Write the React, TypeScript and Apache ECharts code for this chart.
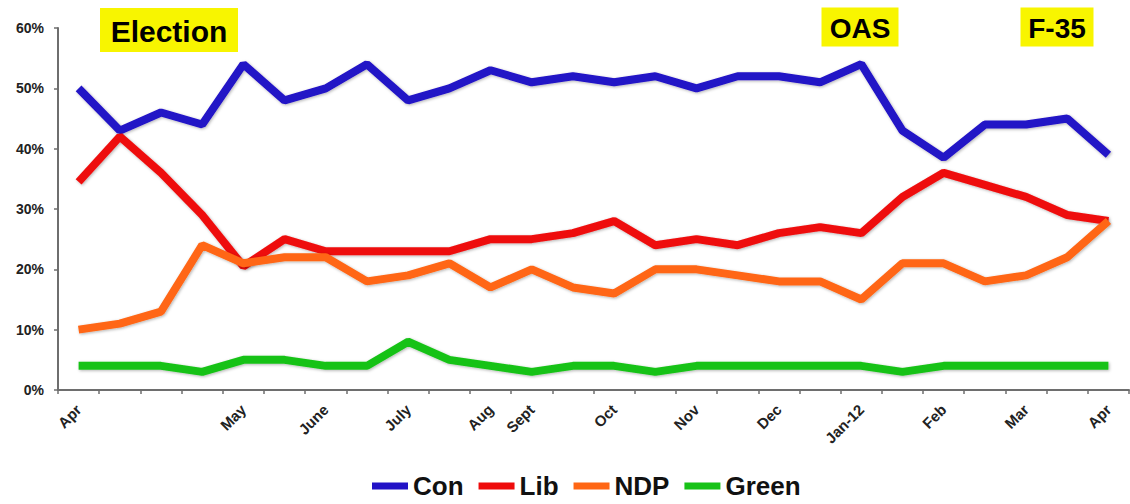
import React, { useEffect, useRef } from "react";
import * as echarts from "echarts";

const categories = ["Apr", "", "", "", "May", "", "June", "", "July", "", "Aug", "Sept", "", "Oct", "", "Nov", "", "Dec", "", "Jan-12", "", "Feb", "", "Mar", "", "Apr"];
const conValues = [50, 43, 46, 44, 54, 48, 50, 54, 48, 50, 53, 51, 52, 51, 52, 50, 52, 52, 51, 54, 43, 38.5, 44, 44, 45, 39];
const libValues = [34.5, 42, 36, 29, 20.5, 25, 23, 23, 23, 23, 25, 25, 26, 28, 24, 25, 24, 26, 27, 26, 32, 36, 34, 32, 29, 28];
const ndpValues = [10, 11, 13, 24, 21, 22, 22, 18, 19, 21, 17, 20, 17, 16, 20, 20, 19, 18, 18, 15, 21, 21, 18, 19, 22, 28];
const greenValues = [4, 4, 4, 3, 5, 5, 4, 4, 8, 5, 4, 3, 4, 4, 3, 4, 4, 4, 4, 4, 3, 4, 4, 4, 4, 4];
const yTicks = [0, 10, 20, 30, 40, 50, 60];
const seriesNames = ["Con", "Lib", "NDP", "Green"];
const seriesColors = ["#2212c6", "#ee0b0b", "#ff6614", "#17c217"];
const annotations = [
  { label: "Election", cx: 169, cy: 30, w: 138, h: 44, size: 30 },
  { label: "OAS", cx: 860, cy: 27, w: 77, h: 39, size: 28 },
  { label: "F-35", cx: 1057, cy: 27, w: 73, h: 39, size: 28 },
];

const FONT = "'Liberation Sans', Arial, sans-serif";

export default function App() {
  const ref = useRef<HTMLDivElement>(null);
  useEffect(() => {
    if (!ref.current) return;
    const chart = echarts.init(ref.current, undefined, { renderer: "svg" });
    const seriesData = [conValues, libValues, ndpValues, greenValues];
    chart.setOption({
      animation: false,
      backgroundColor: "#ffffff",
      textStyle: { fontFamily: FONT },
      grid: { left: 58, right: 1, top: 28, bottom: 114, containLabel: false },
      legend: {
        data: seriesNames,
        bottom: 0,
        left: 367,
        icon: "rect",
        itemWidth: 36,
        itemHeight: 7,
        itemGap: 15,
        textStyle: { fontFamily: FONT, fontWeight: "bold", fontSize: 26, color: "#111" },
      },
      xAxis: {
        type: "category",
        data: categories,
        boundaryGap: true,
        axisLine: { lineStyle: { color: "#6e6e6e", width: 2 } },
        axisTick: { show: true, interval: 0, length: 4, lineStyle: { color: "#6e6e6e", width: 1.5 } },
        axisLabel: {
          interval: 0,
          rotate: 45,
          margin: 17,
          fontFamily: FONT,
          fontWeight: "bold",
          fontSize: 15,
          color: "#222",
        },
      },
      yAxis: {
        type: "value",
        min: yTicks[0],
        max: yTicks[yTicks.length - 1],
        interval: 10,
        splitLine: { show: false },
        axisLine: { show: true, lineStyle: { color: "#6e6e6e", width: 2 } },
        axisTick: { show: true, length: 4, lineStyle: { color: "#6e6e6e", width: 1.5 } },
        axisLabel: {
          formatter: "{value}%",
          margin: 14,
          fontFamily: FONT,
          fontWeight: "bold",
          fontSize: 14,
          color: "#222",
        },
      },
      series: seriesNames.map((name, i) => ({
        name,
        type: "line",
        data: seriesData[i],
        symbol: "none",
        color: seriesColors[i],
        lineStyle: {
          width: 8,
          color: seriesColors[i],
          shadowColor: "rgba(0,0,0,0.3)",
          shadowBlur: 3,
          shadowOffsetX: 1,
          shadowOffsetY: 1,
        },
        z: 2 + i,
      })),
      graphic: annotations.map((a) => ({
        type: "group",
        children: [
          {
            type: "rect",
            shape: { x: a.cx - a.w / 2, y: a.cy - a.h / 2, width: a.w, height: a.h },
            style: { fill: "#f8f500" },
          },
          {
            type: "text",
            x: a.cx,
            y: a.cy + 1,
            style: {
              text: a.label,
              fill: "#000",
              font: `bold ${a.size}px ${FONT}`,
              align: "center",
              verticalAlign: "middle",
            },
          },
        ],
      })),
    });
    return () => chart.dispose();
  }, []);
  return (
    <div
      ref={ref}
      style={{ position: "fixed", left: 0, top: 0, width: 1130, height: 504, background: "#fff" }}
    />
  );
}
